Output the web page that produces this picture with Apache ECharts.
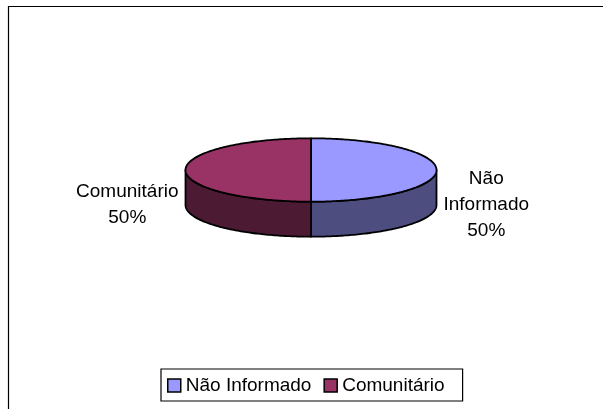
<!DOCTYPE html>
<html>
<head>
<meta charset="utf-8">
<script src="https://cdn.jsdelivr.net/npm/echarts@6/dist/echarts.min.js"></script>
<style>
  html, body { margin: 0; padding: 0; background: #fff; }
  #chart { width: 603px; height: 409px; }
</style>
</head>
<body>
<div id="chart"></div>
<script>
const categories = ['Não Informado', 'Comunitário']
const values = [50, 50]
const labelTexts = ['Não\nInformado', 'Comunitário']
const topColors = ['#9999FF', '#993366']
const sideColors = ['#4D4D80', '#4D1A33']

// pie layout (flattened 3D disc)
const CX = 311
const CY = 170
const RX = 125.5
const RY = 31.7
const DEPTH = 35
const FONT = '"Liberation Sans", Arial, sans-serif'
const FONT_SIZE = 19

const total = values.reduce((a, b) => a + b, 0)
const measureCtx = document.createElement('canvas').getContext('2d')
measureCtx.font = FONT_SIZE + 'px ' + FONT

function pt(a, dy) {
  return [CX + RX * Math.sin(a), CY - RY * Math.cos(a) + dy]
}

function arc(a0, a1, dy) {
  const pts = []
  const steps = Math.max(2, Math.ceil(((a1 - a0) * 180) / Math.PI))
  for (let s = 0; s <= steps; s++) pts.push(pt(a0 + ((a1 - a0) * s) / steps, dy))
  return pts
}

function makeRenderer(i) {
  return function (params, api) {
    let start = 0
    for (let k = 0; k < i; k++) start += values[k]
    const v = api.value(0)
    const a0 = (start / total) * Math.PI * 2
    const a1 = ((start + v) / total) * Math.PI * 2
    const children = []

    // visible front wall
    const w0 = Math.max(a0, Math.PI / 2)
    const w1 = Math.min(a1, (Math.PI * 3) / 2)
    if (w1 > w0) {
      const pts = arc(w0, w1, 0).concat(arc(w0, w1, DEPTH).reverse())
      children.push({
        type: 'polygon',
        shape: { points: pts },
        style: { fill: sideColors[i], stroke: '#000', lineWidth: 1.8, lineJoin: 'round' }
      })
    }

    // top face
    children.push({
      type: 'polygon',
      shape: { points: [[CX, CY]].concat(arc(a0, a1, 0)) },
      style: { fill: topColors[i], stroke: '#000', lineWidth: 1.8, lineJoin: 'round' }
    })

    // label
    const pct = Math.round((v / total) * 100) + '%'
    const text = labelTexts[i] + '\n' + pct
    const w = Math.max(...text.split('\n').map((l) => measureCtx.measureText(l).width))
    const mid = (a0 + a1) / 2
    const side = Math.sin(mid) >= 0 ? 1 : -1
    children.push({
      type: 'text',
      x: CX + side * (RX + 7 + w / 2),
      y: CY - RY * Math.cos(mid) + DEPTH,
      style: {
        text: text,
        fill: '#000',
        fontFamily: FONT,
        fontSize: FONT_SIZE,
        lineHeight: 26,
        align: 'center',
        verticalAlign: 'middle'
      }
    })
    return { type: 'group', children: children }
  }
}

const chart = echarts.init(document.getElementById('chart'))
chart.setOption({
  animation: false,
  backgroundColor: '#fff',
  graphic: [
    {
      type: 'rect',
      shape: { x: 8.5, y: 6.5, width: 700, height: 500 },
      style: { fill: 'none', stroke: '#000', lineWidth: 1.2 },
      silent: true
    }
  ],
  legend: {
    data: categories,
    left: 161,
    top: 369,
    icon: 'rect',
    itemWidth: 13,
    itemHeight: 13,
    itemGap: 12,
    padding: [7, 18, 6, 6],
    borderColor: '#000',
    borderWidth: 1.2,
    textStyle: { fontFamily: FONT, fontSize: FONT_SIZE, color: '#000' },
    itemStyle: { borderColor: '#000', borderWidth: 1.5 }
  },
  series: categories.map((name, i) => ({
    type: 'custom',
    name: name,
    coordinateSystem: 'none',
    itemStyle: { color: topColors[i] },
    data: [[values[i]]],
    renderItem: makeRenderer(i)
  }))
})
window.addEventListener('resize', () => chart.resize())
</script>
</body>
</html>
